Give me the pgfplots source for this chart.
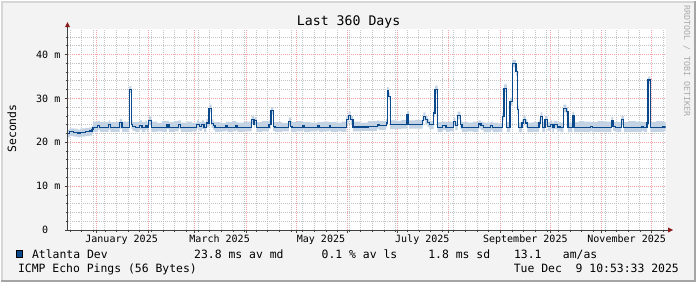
\documentclass[border=0pt]{standalone}
\usepackage{fontspec}
\setmainfont{DejaVu Sans Mono}
\usepackage{pgfplots}
\usepackage{pgfplotstable}
\pgfplotsset{compat=1.18}
\usepgfplotslibrary{fillbetween}
\pgfplotsset{set layers}
\definecolor{bgc}{HTML}{F3F3F3}
\definecolor{framelight}{HTML}{D6D6D6}
\definecolor{framedark}{HTML}{A5A5A5}
\definecolor{medblue}{HTML}{0A4A8C}
\definecolor{band}{HTML}{C4D3E4}
\definecolor{gridred}{HTML}{F0A4A4}
\definecolor{gridgray}{HTML}{C4C4C4}
\definecolor{axisc}{HTML}{404040}
\definecolor{arrowc}{HTML}{8B1A1A}
\definecolor{wm}{HTML}{AAAAAA}

\pgfplotstableread{
x m lo hi
0 22.0 21.1 22.9
1.2 22.4 21.4 23.2
3.6 22.3 21.3 23.1
6 22.1 21.1 22.9
7.8 22.3 21.3 23.2
10.8 22.4 21.4 23.3
13.2 22.6 21.5 23.4
14.8 22.9 21.9 23.8
15.4 23.4 22.4 24.7
18.2 23.8 22.8 24.9
19.4 23.4 22.4 24.6
24.8 24.0 22.9 25.0
25.8 23.4 22.4 24.6
31.4 24.5 23.1 25.3
32.8 23.4 22.4 24.7
37.2 32.0 31.2 32.8
38.4 24.0 23.0 25.0
39.2 23.6 22.6 24.6
40.8 23.4 22.4 24.6
43.4 23.9 22.9 25.0
44.8 23.4 22.4 24.6
46.8 23.9 22.9 24.9
47.8 23.4 22.4 24.5
48.8 24.9 23.9 25.9
50.4 23.4 22.4 24.7
54 23.4 22.5 24.4
57 23.4 22.4 24.8
59.8 24.0 23.0 24.9
61.0 23.4 22.4 24.6
64 23.4 22.5 24.8
66.8 24.0 23.0 25.0
68.2 23.4 22.4 24.5
72 23.4 22.4 24.7
75 23.4 22.5 24.4
77.8 24.1 23.1 25.0
79.4 23.6 22.6 24.6
80.8 24.0 23.0 25.0
82.2 23.4 22.4 24.6
83.6 24.4 23.4 25.3
85.2 27.7 26.8 28.6
86.8 24.3 23.3 25.2
87.8 23.8 22.8 24.7
88.8 23.4 22.4 24.6
92 23.4 22.5 24.4
95.4 23.7 22.7 24.7
96.2 23.4 22.4 24.6
99 23.4 22.5 24.8
101.4 23.7 22.7 24.6
102.2 23.4 22.4 24.5
106 23.4 22.5 24.7
110.8 25.2 24.2 26.0
112.2 24.2 23.2 25.0
112.6 25.0 24.0 25.8
113.8 23.4 22.4 24.6
117 23.4 22.5 24.8
121.2 24.1 23.1 25.0
122.4 27.2 26.3 28.0
123.8 23.6 22.6 24.6
124.8 23.4 22.4 24.6
129 23.4 22.5 24.4
133.2 24.8 23.8 25.6
134.4 23.6 22.6 24.6
135.2 23.4 22.4 24.6
138 23.4 22.5 24.8
141.6 23.7 22.7 24.6
142.4 23.4 22.4 24.6
146 23.4 22.5 24.5
150.6 23.7 22.7 24.7
151.4 23.4 22.4 24.6
154 23.4 22.5 24.7
157.6 23.7 22.7 24.6
158.4 23.4 22.4 24.6
162 23.4 22.5 24.5
165 23.4 22.4 24.7
167.8 25.2 24.2 26.0
169.2 26.1 25.1 27.0
170.4 25.2 24.2 26.0
171.8 23.5 22.5 24.7
176 23.5 22.6 24.5
180.8 23.6 22.6 24.8
186.4 24.1 23.1 25.0
187.4 23.8 22.8 24.8
190 23.8 22.8 24.9
191.8 24.4 23.4 25.3
192.4 31.7 30.8 32.6
193.2 30.5 29.6 31.3
194.2 24.0 23.0 25.0
198 24.0 23.0 24.9
201 24.1 23.1 25.1
204.4 26.3 25.4 27.1
205.4 24.1 23.1 25.0
209 24.1 23.1 25.1
213.8 25.0 24.0 25.8
214.2 25.9 25.0 26.8
215.4 25.2 24.2 26.0
216.8 24.5 23.5 25.4
217.8 24.0 23.0 24.9
220.4 26.7 25.8 27.6
221.2 32.0 31.1 32.9
222.8 23.4 22.4 24.6
225.8 23.8 22.8 24.7
227.8 23.4 22.4 24.6
230 23.4 22.5 24.7
232.4 24.8 23.8 25.6
233.4 23.8 22.8 24.7
234.8 26.1 25.2 27.0
236.4 24.0 23.0 25.0
237.4 23.4 22.4 24.6
241 23.4 22.5 24.5
244 23.4 22.4 24.7
247.4 24.2 23.2 25.0
248.8 23.8 22.8 24.7
250.4 23.3 22.3 24.5
254.8 23.8 22.8 24.7
255.8 23.3 22.3 24.5
259 23.3 22.4 24.3
261.8 25.9 25.0 26.8
262.8 32.3 31.4 33.2
264.4 23.4 22.4 24.6
266.4 29.3 28.4 30.2
267.8 38.0 37.1 38.8
270.0 36.1 35.2 37.0
270.8 27.4 26.5 28.3
271.6 23.3 22.3 24.5
273.6 24.4 23.4 25.2
274.4 25.2 24.2 26.0
275.8 24.4 23.4 25.2
276.8 23.3 22.3 24.5
280 23.3 22.4 24.6
283.8 24.4 23.4 25.2
284.8 25.9 25.0 26.8
285.8 23.4 22.4 24.6
287.4 25.2 24.2 26.0
289.0 23.6 22.6 24.6
290.8 24.1 23.1 25.0
291.8 23.3 22.3 24.5
292.8 24.0 23.0 24.9
294.8 23.3 22.3 24.5
295.8 23.6 22.6 24.6
296.8 23.3 22.3 24.5
298.4 27.7 26.8 28.6
300.2 27.1 26.2 28.0
301.2 23.3 22.3 24.5
303.8 26.1 25.2 27.0
304.8 23.3 22.3 24.6
308 23.3 22.4 24.8
311 23.3 22.3 24.7
314.8 23.6 22.6 24.6
315.8 23.3 22.3 24.6
319 23.3 22.4 24.8
323 23.3 22.3 24.7
327.4 25.0 24.0 25.8
328.4 23.6 22.6 24.6
329.8 23.3 22.3 24.6
333.4 25.2 24.2 26.0
334.8 23.3 22.3 24.6
338 23.3 22.4 24.8
342 23.3 22.3 24.7
345.8 23.6 22.6 24.6
346.8 23.3 22.3 24.6
348.8 24.4 23.4 25.2
349.4 34.2 33.3 35.0
350.8 23.3 22.3 24.6
354 23.3 22.4 24.8
358 23.5 22.5 24.7
360 23.5 22.5 24.7
}\med

\begin{document}
\begin{tikzpicture}[x=1bp,y=1bp]
% page background, drawn as an empty axis so that it lies under the plot's layers
\begin{axis}[
  set layers,
  at={(0bp,0bp)}, anchor=south west,
  scale only axis, width=697bp, height=282bp,
  xmin=0, xmax=1, ymin=0, ymax=1,
  axis line style={draw=none},
  axis background/.style={fill=bgc},
  xtick=\empty, ytick=\empty,
]
\end{axis}

\begin{axis}[
  set layers,
  at={(66.5bp,52.5bp)}, anchor=south west,
  scale only axis, width=600bp, height=202bp,
  xmin=0, xmax=360, ymin=0, ymax=45.91,
  axis line style={draw=none},
  axis background/.style={fill=white},
  tick pos=left, tick align=outside,
  major tick length=3bp, minor tick length=2bp,
  tick style={draw=axisc, line width=0.8bp},
  xtick={17.55,48.55,76.55,107.55,137.55,168.55,198.55,229.55,260.55,290.55,321.55,351.55},
  xticklabels={},
  xmajorgrids=true,
  extra x ticks={32.55,91.55,152.55,213.55,275.55,336.55},
  extra x tick labels={January 2025,March 2025,May 2025,July 2025,September 2025,November 2025},
  extra x tick style={grid=none, major tick length=0pt},
  minor xtick={1.55,8.55,...,358.55},
  xminorgrids=true,
  ytick={0,10,20,30,40},
  yticklabels={0\phantom{ m},10 m,20 m,30 m,40 m},
  minor ytick={2,4,6,8,12,14,16,18,22,24,26,28,32,34,36,38,42,44},
  ymajorgrids=true, yminorgrids=true,
  major grid style={draw=gridred, dash pattern=on 1bp off 1bp, line width=1bp},
  minor grid style={draw=gridgray, dash pattern=on 1bp off 1bp, line width=1bp},
  x tick label style={font=\fontsize{10.1}{12}\selectfont, anchor=north, inner sep=0pt, yshift=-5bp},
  y tick label style={font=\fontsize{10.1}{12}\selectfont, anchor=east, inner sep=0pt, xshift=-4bp},
]
\addplot[name path=hi, draw=none, const plot, forget plot] table[x=x,y=hi]{\med};
\addplot[name path=lo, draw=none, const plot, forget plot] table[x=x,y=lo]{\med};
\addplot[fill=band, draw=none, forget plot] fill between[of=hi and lo];
\addplot[const plot, draw=medblue, line width=1.3bp, mark=none] table[x=x,y=m]{\med};
\end{axis}

\draw[framelight, line width=2bp] (1,0) -- (1,281) -- (697,281);
\draw[framedark, line width=2.5bp] (0,1.25) -- (695.75,1.25) -- (695.75,282);

\draw[axisc, line width=1bp] (66.5,52.5) -- (66.5,257);
\fill[arrowc] (64,256) -- (69,256) -- (66.5,261) -- cycle;
\draw[axisc, line width=1bp] (66.5,52.5) -- (669,52.5);
\fill[arrowc] (669,50) -- (669,55) -- (674,52.5) -- cycle;

\node[font=\fontsize{13.3}{15}\selectfont, anchor=base, inner sep=0pt] at (348.5,258) {Last 360 Days};
\node[font=\fontsize{11.5}{13}\selectfont, rotate=90, anchor=base, inner sep=0pt] at (15,154.3) {Seconds};
\node[font=\fontsize{8.4}{10}\selectfont, rotate=-90, anchor=base, inner sep=0pt, text=wm] at (685,222) {RRDTOOL / TOBI OETIKER};

\filldraw[fill=medblue, draw=black, line width=0.8bp] (15.5,25) rectangle (21.5,32);
\begin{scope}[every node/.style={font=\fontsize{11.5}{13}\selectfont, inner sep=0pt}]
\node[anchor=base west] at (30.7,24) {Atlanta Dev};
\node[anchor=base west] at (193.3,24) {23.8 ms av md};
\node[anchor=base west] at (321.3,24) {0.1 \% av ls};
\node[anchor=base west] at (428.3,24) {1.8 ms sd};
\node[anchor=base west] at (514.3,24) {13.1};
\node[anchor=base west] at (563.3,24) {am/as};
\node[anchor=base west] at (16.7,10) {ICMP Echo Pings (56 Bytes)};
\node[anchor=base east] at (680,10) {Tue Dec\ \ 9 10:53:33 2025};
\end{scope}
\end{tikzpicture}
\end{document}
